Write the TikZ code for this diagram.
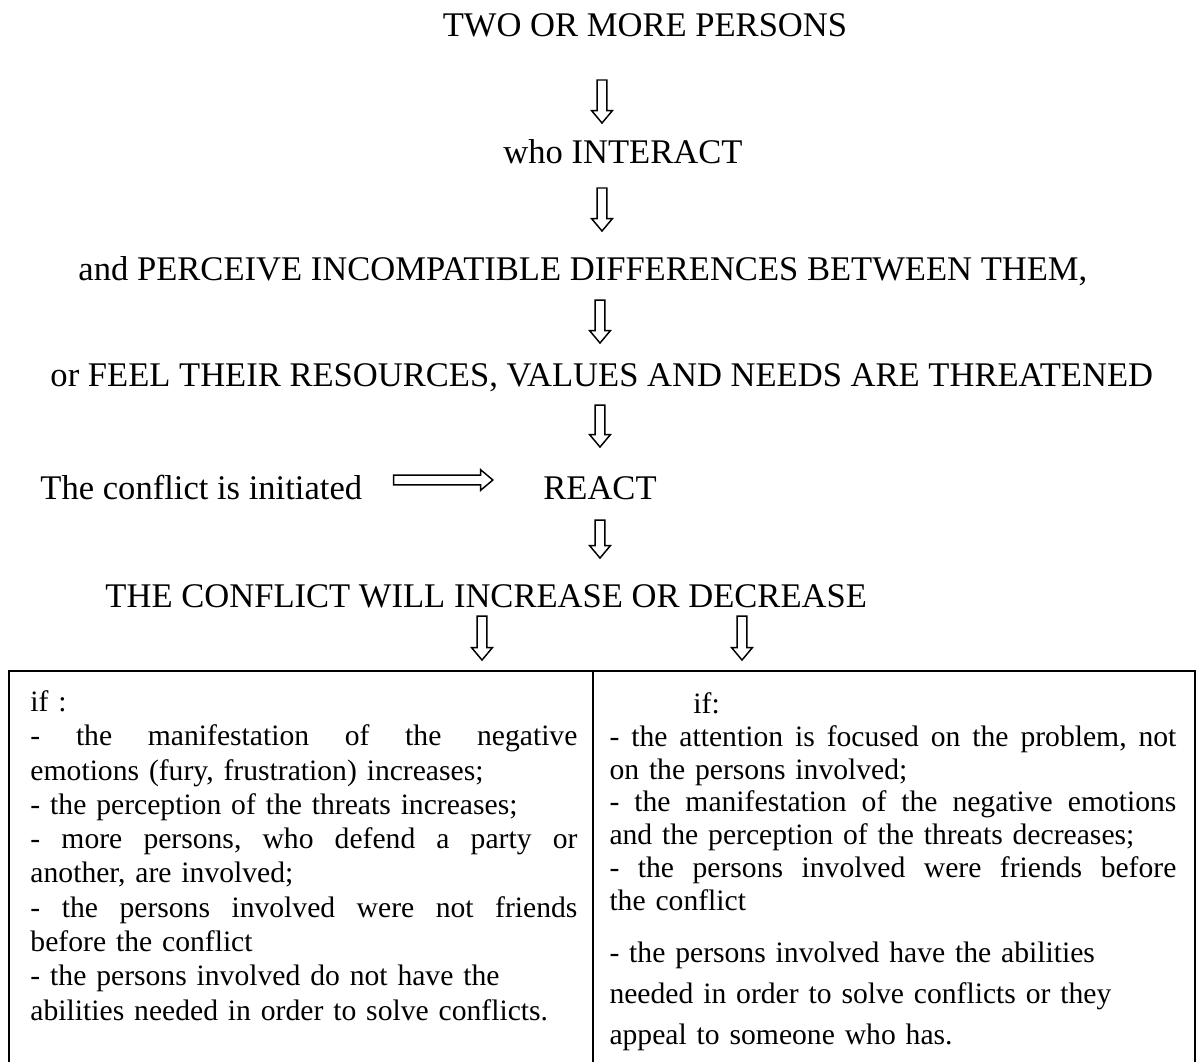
\documentclass[tikz,border=0pt]{standalone}
\usepackage{fontspec}
\setmainfont{Liberation Serif}
\usetikzlibrary{calc}

\newlength\leftcolw
\setlength\leftcolw{221.5pt}
\newlength\rightcolw
\setlength\rightcolw{229.6pt}

\tikzset{
  hollow/.style={line width=0.6pt, to path={
      let \p1=(\tikztostart), \p2=(\tikztotarget),
          \n1={veclen(\x2-\x1,\y2-\y1)}, \n2={atan2(\y2-\y1,\x2-\x1)} in
      {[shift={(\p1)}, rotate=\n2]
        (0pt,-2pt) -- ({\n1*1pt-5pt},-2pt) -- ({\n1*1pt-5pt},-4.2pt)
        -- ({\n1*1pt},0pt) -- ({\n1*1pt-5pt},4.2pt) -- ({\n1*1pt-5pt},2pt)
        -- (0pt,2pt) -- cycle}}},
  big/.style={font=\fontsize{14}{16}\selectfont, inner sep=0pt, anchor=base},
  cell/.style={inner sep=0pt, anchor=north west, align=left}
}

\begin{document}
\begin{tikzpicture}[x=0.405pt, y=-0.405pt]
  \useasboundingbox (0,0) rectangle (1197,1061);

  % the chain of statements
  \node[big] (two) at (645,36) {TWO OR MORE PERSONS};
  \node[big] (who) at (623,163) {who INTERACT};
  \node[big, anchor=base west] (perceive) at (78,280) {and PERCEIVE INCOMPATIBLE DIFFERENCES BETWEEN THEM,};
  \node[big, anchor=base west] (feel) at (50,386) {or FEEL THEIR RESOURCES, VALUES AND NEEDS ARE THREATENED};
  \node[big, anchor=base west] (init) at (40,499) {The conflict is initiated};
  \node[big] (react) at (600,499) {REACT};
  \node[big, anchor=base west] (conflict) at (105,607) {THE CONFLICT WILL INCREASE OR DECREASE};

  % the table
  \draw[line width=0.8pt] (9,671) rectangle (1195,1090);
  \draw[line width=0.8pt] (593,671) -- (593,1090);
  \node[cell, text width=\leftcolw, font=\fontsize{12}{13.9}\selectfont] (lcol) at (30,690) {\noindent if :\\
    \leavevmode\hbox to\leftcolw{-\hfill the\hfill manifestation\hfill of\hfill the\hfill negative}\\
    emotions (fury, frustration) increases;\\
    - the perception of the threats increases;\\
    \leavevmode\hbox to\leftcolw{-\hfill more\hfill persons,\hfill who\hfill defend\hfill a\hfill party\hfill or}\\
    another, are involved;\\
    \leavevmode\hbox to\leftcolw{-\hfill the\hfill persons\hfill involved\hfill were\hfill not\hfill friends}\\
    before the conflict\\
    - the persons involved do not have the\\
    abilities needed in order to solve conflicts.};
  \node[cell, text width=\rightcolw, font=\fontsize{12}{13.3}\selectfont] (rcol) at (609,692) {\noindent\hspace*{34pt}if:\\
    \leavevmode\hbox to\rightcolw{-\hfill the\hfill attention\hfill is\hfill focused\hfill on\hfill the\hfill problem,\hfill not}\\
    on the persons involved;\\
    \leavevmode\hbox to\rightcolw{-\hfill the\hfill manifestation\hfill of\hfill the\hfill negative\hfill emotions}\\
    and the perception of the threats decreases;\\
    \leavevmode\hbox to\rightcolw{-\hfill the\hfill persons\hfill involved\hfill were\hfill friends\hfill before}\\
    the conflict\\[7.6pt]
    - the persons involved have the abilities\\[3.4pt]
    needed in order to solve conflicts or they\\[3.4pt]
    appeal to someone who has.};

  % block arrows
  \draw[hollow] ($(two.base -| react)+(2,44)$) to ($(who.base -| react)+(2,-40)$);
  \draw[hollow] ($(who.base -| react)+(2,25)$) to ($(perceive.base -| react)+(2,-49)$);
  \draw[hollow] ($(perceive.base -| react)+(0,20)$) to ($(feel.base -| react)+(0,-43)$);
  \draw[hollow] ($(feel.base -| react)+(0,19)$) to ($(react.base)+(0,-52)$);
  \draw[hollow] ($(init.base east)+(31,-19)$) to ($(react.base west)+(-50,-19)$);
  \draw[hollow] ($(react.base)+(0,21)$) to ($(conflict.base -| react)+(0,-49)$);
  \draw[hollow] ($(conflict.base west)+(377,9)$) to ($(lcol.north west)+(452,-30)$);
  \draw[hollow] ($(conflict.base west)+(637,9)$) to ($(rcol.north west)+(133,-32)$);
\end{tikzpicture}
\end{document}
